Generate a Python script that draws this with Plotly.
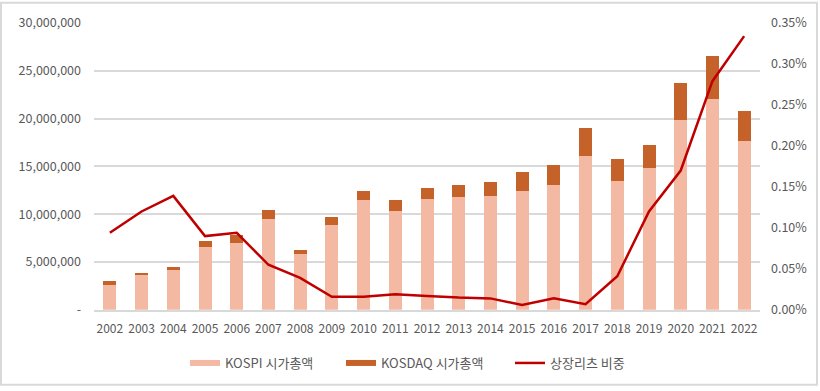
import plotly.graph_objects as go

years = [str(y) for y in range(2002, 2023)]
kospi = [2580000, 3620000, 4180000, 6590000, 7030000, 9550000, 5790000, 8860000,
         11450000, 10380000, 11550000, 11830000, 11930000, 12410000, 13100000,
         16070000, 13480000, 14830000, 19860000, 22100000, 17680000]
kosdaq = [390000, 280000, 310000, 650000, 800000, 940000, 450000, 900000,
          960000, 1070000, 1170000, 1240000, 1450000, 2000000, 2000000,
          2900000, 2280000, 2410000, 3860000, 4480000, 3150000]
reits_pct = [0.094, 0.120, 0.139, 0.090, 0.094, 0.055, 0.039, 0.016, 0.016, 0.019,
             0.017, 0.015, 0.014, 0.006, 0.014, 0.007, 0.041, 0.120, 0.170, 0.279, 0.334]
left_ticks = [0, 5000000, 10000000, 15000000, 20000000, 25000000, 30000000]
left_ticktext = ["-", "5,000,000", "10,000,000", "15,000,000", "20,000,000", "25,000,000", "30,000,000"]
right_ticks = [0, 0.0005, 0.001, 0.0015, 0.002, 0.0025, 0.003, 0.0035]

FONT = "Noto Sans CJK KR"
GRAY = "#595959"
C_KOSPI = "#F4B9A3"
C_KOSDAQ = "#C5622A"
C_LINE = "#C00000"

fig = go.Figure()
fig.add_trace(go.Bar(x=years, y=kospi, name="KOSPI 시가총액", showlegend=False,
                     marker=dict(color=C_KOSPI, line_width=0)))
fig.add_trace(go.Bar(x=years, y=kosdaq, name="KOSDAQ 시가총액", showlegend=False,
                     marker=dict(color=C_KOSDAQ, line_width=0)))
fig.add_trace(go.Scatter(x=years, y=[v / 100 for v in reits_pct], name="상장리츠 비중", yaxis="y2",
                         mode="lines", line=dict(color=C_LINE, width=2.5), legend="legend3"))
# legend swatches (wide flat bars like the reference)
fig.add_trace(go.Scatter(x=[None], y=[None], mode="lines", name="KOSPI 시가총액",
                         line=dict(color=C_KOSPI, width=6), legend="legend"))
fig.add_trace(go.Scatter(x=[None], y=[None], mode="lines", name="KOSDAQ 시가총액",
                         line=dict(color=C_KOSDAQ, width=6), legend="legend2"))

leg_common = dict(orientation="h", yref="container", y=1 - 363 / 391, yanchor="middle",
                  xref="container", xanchor="left", font=dict(size=13, color=GRAY),
                  itemwidth=30, bgcolor="rgba(0,0,0,0)", tracegroupgap=0)

fig.update_layout(
    width=820, height=391,
    margin=dict(l=94, r=60, t=22, b=78),
    paper_bgcolor="white", plot_bgcolor="white",
    barmode="stack", bargap=0.59,
    font=dict(family=FONT, size=12, color=GRAY),
    xaxis=dict(type="category", showgrid=False, showline=True, linecolor="#D9D9D9", linewidth=1.5,
               ticks="", ticklabelstandoff=7, tickfont=dict(size=12, color=GRAY)),
    yaxis=dict(range=[0, 30000000], tickvals=left_ticks, ticktext=left_ticktext,
               showgrid=True, gridcolor="#D9D9D9", gridwidth=1.5, zeroline=False,
               showline=False, ticks="", ticklabelstandoff=12, tickfont=dict(size=12.5, color=GRAY)),
    yaxis2=dict(range=[0, 0.0035], tickvals=right_ticks, tickformat=".2%", overlaying="y", side="right",
                showgrid=False, zeroline=False, showline=False, ticks="", ticklabelstandoff=10,
                tickfont=dict(size=12.5, color=GRAY)),
    legend=dict(x=185 / 820, **leg_common),
    legend2=dict(x=341 / 820, **leg_common),
    legend3=dict(x=510 / 820, **leg_common),
    showlegend=True,
    shapes=[dict(type="rect", xref="paper", yref="paper", x0=-93/666, x1=(817-94)/666,
                 y0=-(388.5-312.7)/290.7, y1=(312.7-1.5)/290.7,
                 line=dict(color="#D9D9D9", width=2), fillcolor="rgba(0,0,0,0)", layer="above")],
)

fig.write_html("out.html", config={"displayModeBar": False},
               post_script="document.body.style.margin='0';")
